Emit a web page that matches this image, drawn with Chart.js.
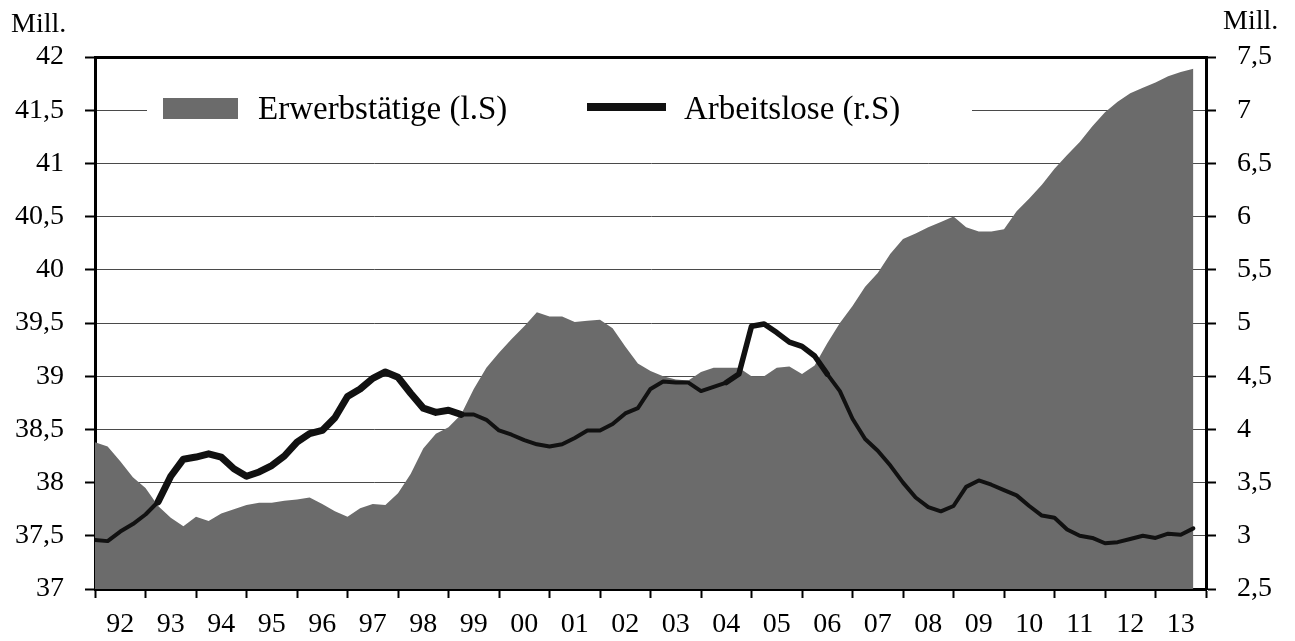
<!DOCTYPE html>
<html>
<head>
<meta charset="utf-8">
<script src="https://cdn.jsdelivr.net/npm/chart.js@4"></script>
<style>
  html, body { margin: 0; padding: 0; background: #fff; }
  #wrap { width: 1295px; height: 641px; }
</style>
</head>
<body>
<div id="wrap"><canvas id="arbeitsmarkt"></canvas></div>
<script>
// quarterly readings, Jan 1992 onwards
const startYear = 1992;
const step = 0.25;
const yearLabels = ['92','93','94','95','96','97','98','99','00','01','02','03','04','05','06','07','08','09','10','11','12','13'];

// Erwerbstätige, Mill. (left axis)
const erwerbstaetige = [
  38.38, 38.34, 38.20, 38.05, 37.95, 37.78, 37.67, 37.59,
  37.68, 37.64, 37.71, 37.75, 37.79, 37.81, 37.81, 37.83,
  37.84, 37.86, 37.80, 37.73, 37.68, 37.76, 37.80, 37.79,
  37.90, 38.08, 38.32, 38.46, 38.52, 38.64, 38.88, 39.08,
  39.22, 39.35, 39.47, 39.60, 39.56, 39.56, 39.51, 39.52,
  39.53, 39.45, 39.28, 39.12, 39.05, 39.00, 38.97, 38.96,
  39.04, 39.08, 39.08, 39.08, 39.00, 39.00, 39.08, 39.09,
  39.02, 39.10, 39.31, 39.50, 39.66, 39.84, 39.97, 40.15,
  40.29, 40.34, 40.40, 40.45, 40.50, 40.40, 40.36, 40.36,
  40.38, 40.55, 40.67, 40.80, 40.95, 41.08, 41.20, 41.35,
  41.48, 41.58, 41.66, 41.71, 41.76, 41.82, 41.86, 41.89
];

// Arbeitslose, Mill. (right axis)
const arbeitslose = [
  2.96, 2.95, 3.04, 3.11, 3.20, 3.32, 3.56, 3.72,
  3.74, 3.77, 3.74, 3.63, 3.56, 3.60, 3.66, 3.75,
  3.88, 3.96, 3.99, 4.11, 4.31, 4.38, 4.48, 4.54,
  4.49, 4.34, 4.20, 4.16, 4.18, 4.14, 4.14, 4.09,
  3.99, 3.95, 3.90, 3.86, 3.84, 3.86, 3.92, 3.99,
  3.99, 4.05, 4.15, 4.20, 4.38, 4.45, 4.44, 4.44,
  4.36, 4.40, 4.44, 4.52, 4.97, 4.99, 4.91, 4.82,
  4.78, 4.69, 4.52, 4.36, 4.10, 3.91, 3.80, 3.66,
  3.50, 3.36, 3.27, 3.23, 3.28, 3.46, 3.52, 3.48,
  3.43, 3.38, 3.28, 3.19, 3.17, 3.06, 3.00, 2.98,
  2.93, 2.94, 2.97, 3.00, 2.98, 3.02, 3.01, 3.07
];

const serif = 'Liberation Serif';
const areaGrey = '#6b6b6b';
const lineBlack = '#111111';

function toPoints(values) {
  return values.map((v, i) => ({ x: startYear + i * step, y: v }));
}

function deComma(v) {
  return String(v).replace('.', ',');
}

// the scanned line is heavier in some stretches
function lineWidthAt(i) {
  if (i < 5) return 4;
  if (i < 29) return 7;
  if (i >= 50 && i < 58) return 5.5;
  return 4;
}

const overlayLegend = {
  id: 'overlayLegend',
  beforeDatasetsDraw(chart) {
    const ctx = chart.ctx;
    const ds = chart.data.datasets;
    ctx.save();
    ctx.fillStyle = '#fff';
    ctx.fillRect(147, 92, 825, 34);

    ctx.fillStyle = ds[1].backgroundColor;
    ctx.fillRect(163, 98, 75, 21);

    ctx.strokeStyle = ds[0].borderColor;
    ctx.lineWidth = 8;
    ctx.beginPath();
    ctx.moveTo(587, 107);
    ctx.lineTo(666, 107);
    ctx.stroke();

    ctx.fillStyle = '#000';
    ctx.font = '33px "' + serif + '"';
    ctx.textBaseline = 'alphabetic';
    ctx.textAlign = 'left';
    ctx.fillText(ds[1].label, 258, 119);
    ctx.fillText(ds[0].label, 684, 119);
    ctx.restore();
  },
  afterDraw(chart) {
    const ctx = chart.ctx;
    ctx.save();
    ctx.fillStyle = '#000';
    ctx.font = '28px "' + serif + '"';
    ctx.textBaseline = 'alphabetic';
    ctx.textAlign = 'left';
    ctx.fillText('Mill.', 11, 32);
    ctx.fillText('Mill.', 1223, 29);
    ctx.restore();
  }
};

const tickFont = { family: serif, size: 28 };

const ctx = document.getElementById('arbeitsmarkt').getContext('2d');
new Chart(ctx, {
  type: 'line',
  data: {
    datasets: [
      {
        label: 'Arbeitslose (r.S)',
        data: toPoints(arbeitslose),
        yAxisID: 'y1',
        borderColor: lineBlack,
        borderWidth: 4,
        borderJoinStyle: 'round',
        borderCapStyle: 'round',
        pointRadius: 0,
        fill: false,
        tension: 0,
        segment: {
          borderWidth: c => lineWidthAt(c.p0DataIndex)
        }
      },
      {
        label: 'Erwerbstätige (l.S)',
        data: toPoints(erwerbstaetige),
        yAxisID: 'y',
        backgroundColor: areaGrey,
        borderColor: areaGrey,
        borderWidth: 0,
        pointRadius: 0,
        fill: 'start',
        tension: 0
      }
    ]
  },
  options: {
    responsive: true,
    maintainAspectRatio: false,
    animation: false,
    layout: { padding: 0 },
    plugins: {
      legend: { display: false },
      tooltip: { enabled: false }
    },
    scales: {
      x: {
        type: 'linear',
        position: 'bottom',
        min: 1992,
        max: 2014,
        afterBuildTicks: scale => {
          scale.ticks = yearLabels.map((_, i) => ({ value: startYear + i + 0.5 }));
        },
        afterFit: scale => { scale.height = 52; },
        ticks: {
          autoSkip: false,
          maxRotation: 0,
          color: '#000',
          font: tickFont,
          padding: 10,
          callback: (v, i) => yearLabels[i]
        },
        grid: {
          offset: true,
          drawOnChartArea: false,
          tickLength: 9,
          tickColor: '#000',
          tickWidth: 2
        },
        border: { color: '#000', width: 3 }
      },
      xTop: {
        type: 'linear',
        position: 'top',
        min: 1992,
        max: 2014,
        afterFit: scale => { scale.height = 57; },
        ticks: { display: false },
        grid: { display: false },
        border: { color: '#000', width: 3 }
      },
      y: {
        position: 'left',
        min: 37,
        max: 42,
        afterFit: scale => { scale.width = 95; },
        ticks: {
          stepSize: 0.5,
          color: '#000',
          font: tickFont,
          padding: 21,
          callback: v => deComma(v)
        },
        grid: {
          color: '#4a4a4a',
          lineWidth: 1,
          tickLength: 10,
          tickColor: '#000',
          tickWidth: 2
        },
        border: { color: '#000', width: 3 }
      },
      y1: {
        position: 'right',
        min: 2.5,
        max: 7.5,
        afterFit: scale => { scale.width = 89; },
        ticks: {
          stepSize: 0.5,
          color: '#000',
          font: tickFont,
          padding: 21,
          callback: v => deComma(v)
        },
        grid: {
          drawOnChartArea: false,
          tickLength: 10,
          tickColor: '#000',
          tickWidth: 2
        },
        border: { color: '#000', width: 3 }
      }
    }
  },
  plugins: [overlayLegend]
});
</script>
</body>
</html>
